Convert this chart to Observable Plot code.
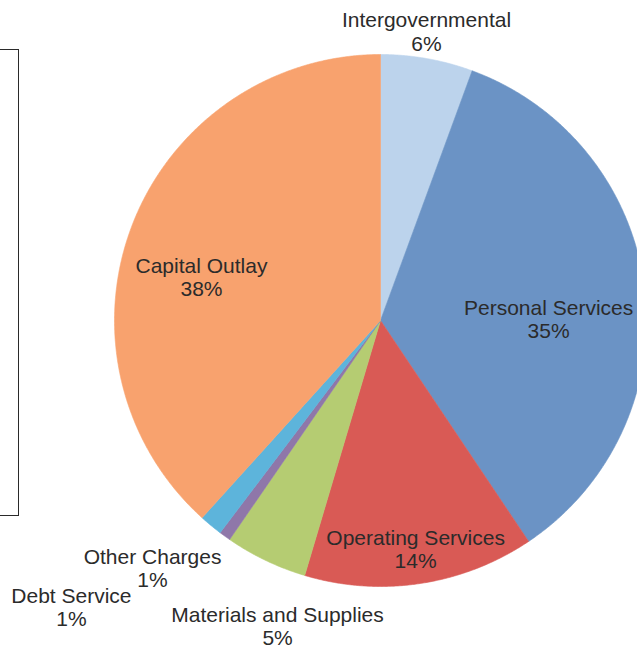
<!DOCTYPE html>
<html>
<head>
<meta charset="utf-8">
<script src="https://cdn.jsdelivr.net/npm/d3@7"></script>
<script src="https://cdn.jsdelivr.net/npm/@observablehq/plot@0.6"></script>
<style>
  html, body { margin: 0; padding: 0; background: #fff; overflow: hidden; }
  #wrap { position: relative; width: 637px; height: 648px; }
  #legendBox { position: absolute; left: -10px; top: 49px; width: 27px; height: 465px; border: 1.5px solid #2a2a2a; }
  #chart { position: absolute; left: 0; top: 0; }
</style>
</head>
<body>
<div id="wrap">
  <div id="legendBox"></div>
  <div id="chart"></div>
</div>
<script>
// ---- data (clockwise from 12 o'clock) ----
const categories = ["Intergovernmental", "Personal Services", "Operating Services", "Materials and Supplies", "Debt Service", "Other Charges", "Capital Outlay"];
const shares = [5.6, 35.0, 14.0, 5.0, 0.7, 1.4, 38.3];

// ---- styling / layout (kept separate from data) ----
const colors = ["#bcd3ec", "#6b93c5", "#d95a55", "#b5cc72", "#8f77a9", "#5db4db", "#f8a26e"];
// label block centres, as fractions of the radius relative to the pie centre
const labelOffsetX = [0.173, 0.632, 0.132, -0.387, -1.162, -0.857, -0.673];
const labelOffsetY = [-1.086, -0.004, 0.861, 1.150, 1.079, 0.932, -0.162];

const W = 637, H = 648;
const cx = 380, cy = 320, R = 266;

// build slice polygons from the data through d3.pie
const pie = d3.pie().sort(null).value(d => d)(shares);
const polys = [];
pie.forEach((p, i) => {
  const name = categories[i];
  polys.push({name, px: cx, py: cy});
  const n = Math.max(4, Math.ceil((p.endAngle - p.startAngle) / 0.005));
  for (let k = 0; k <= n; k++) {
    const a = p.startAngle + (p.endAngle - p.startAngle) * k / n;
    polys.push({name, px: cx + R * Math.sin(a), py: cy - R * Math.cos(a)});
  }
  polys.push({name, px: cx, py: cy});
});

const labels = categories.map((c, i) => ({
  name: c,
  text: c + "\n" + Math.round(shares[i]) + "%",
  lx: cx + labelOffsetX[i] * R,
  ly: cy + labelOffsetY[i] * R
}));

const chart = Plot.plot({
  width: W,
  height: H,
  margin: 0,
  x: {domain: [0, W], range: [0, W], axis: null},
  y: {domain: [0, H], range: [0, H], axis: null},
  color: {domain: categories, range: colors},
  style: {background: "transparent", overflow: "visible"},
  marks: [
    Plot.line(polys, {x: "px", y: "py", z: "name", fill: "name", stroke: "name", strokeWidth: 0.6, curve: "linear"}),
    Plot.text(labels, {
      x: "lx", y: "ly", text: "text",
      fontSize: 21, lineHeight: 1.1, lineAnchor: "middle",
      fontFamily: "'Liberation Sans', Arial, Helvetica, sans-serif",
      fill: "#2b2b2b"
    })
  ]
});
document.getElementById("chart").appendChild(chart);
</script>
</body>
</html>
